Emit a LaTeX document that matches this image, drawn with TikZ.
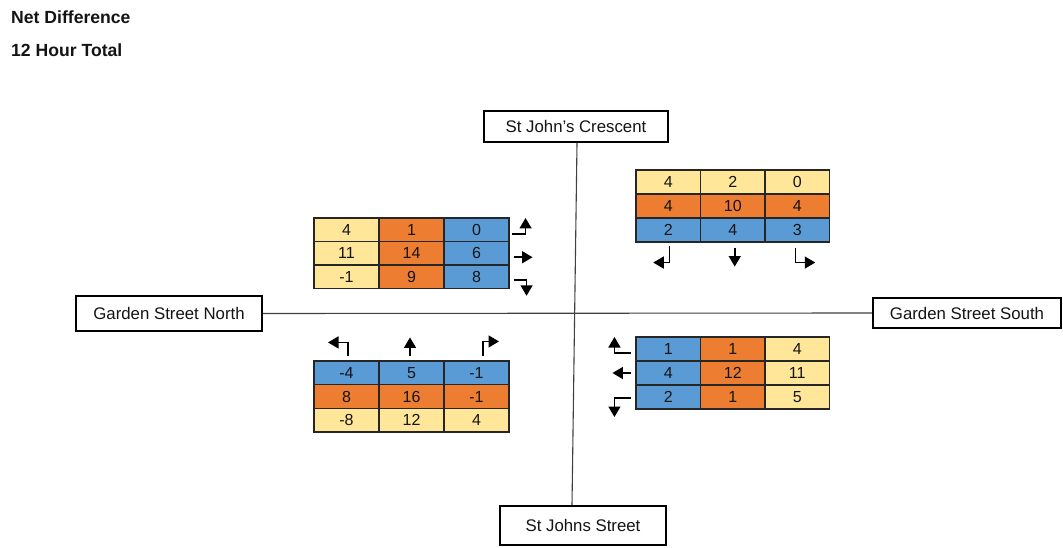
\documentclass[tikz,border=0pt]{standalone}
\usepackage{fontspec}
\setmainfont{Liberation Sans}
\usetikzlibrary{arrows.meta,calc}
\definecolor{yel}{HTML}{FFE699}
\definecolor{org}{HTML}{ED7D31}
\definecolor{blu}{HTML}{5B9BD5}
\definecolor{txt}{HTML}{141414}
\definecolor{road}{HTML}{404040}
\newcommand\mktable[6]{%
  \foreach \r/\c/\v/\f in {#6}{%
    \node[cell,fill=\f,minimum width=#4pt,minimum height=#5pt] (#1-\r-\c)
      at ({#2+(\c-0.5)*#4},{#3+(\r-0.5)*#5}) {\v};}}
\begin{document}
\begin{tikzpicture}[x=1pt,y=-1pt,
  cell/.style={draw=black!85,line width=1.1pt,inner sep=0pt,text=txt,
    font=\fontsize{16}{18}\selectfont},
  street/.style={draw=black,line width=2.2pt,fill=white,inner sep=0pt,
    text=txt,font=\fontsize{16.8}{19}\selectfont},
  title/.style={font=\fontsize{17.6}{20}\selectfont\bfseries,text=txt,
    inner sep=0pt,anchor=base west},
  turn/.style={line width=1.5pt,-{Triangle[length=10.5pt,width=12pt]}},
  roadline/.style={draw=road,line width=1.1pt}]
\useasboundingbox (0,0) rectangle (1063,548);
\node[title] (t1) at (11,24) {Net Difference};
\node[title] (t2) at (11,57) {12 Hour Total};
% streets
\node[street,minimum width=184pt,minimum height=31pt] (sjc) at (576,126.5) {St John's Crescent};
\node[street,minimum width=166pt,minimum height=39pt] (sjs) at (583,525.5) {St Johns Street};
\node[street,minimum width=186pt,minimum height=35pt] (gsn) at (169,313.5) {Garden Street North};
\node[street,minimum width=188pt,minimum height=30pt] (gss) at (967,313) {Garden Street South};
\coordinate (vt) at (577,143);
\coordinate (vb) at (572,505);
\draw[roadline] (sjc.south -| vt) -- (sjs.north -| vb);
\draw[roadline] (gsn.east) -- (gss.west);
% tables
\mktable{nw}{314}{218}{65}{23.5}{1/1/4/yel,1/2/1/org,1/3/0/blu,2/1/11/yel,2/2/14/org,2/3/6/blu,3/1/-1/yel,3/2/9/org,3/3/8/blu}
\mktable{ne}{636}{170}{64.5}{24}{1/1/4/yel,1/2/2/yel,1/3/0/yel,2/1/4/org,2/2/10/org,2/3/4/org,3/1/2/blu,3/2/4/blu,3/3/3/blu}
\mktable{sw}{314}{361}{65}{23.67}{1/1/-4/blu,1/2/5/blu,1/3/-1/blu,2/1/8/org,2/2/16/org,2/3/-1/org,3/1/-8/yel,3/2/12/yel,3/3/4/yel}
\mktable{se}{636}{337}{64.5}{24}{1/1/1/blu,1/2/1/org,1/3/4/yel,2/1/4/blu,2/2/12/org,2/3/11/yel,3/1/2/blu,3/2/1/org,3/3/5/yel}
% turning arrows
\draw[turn] ($(nw-1-3.east)+(2,4.25)$) -- ++(14,0) -- ++(0,-16);
\draw[turn] ($(nw-2-3.east)+(4,4)$) -- ++(19,0);
\draw[turn] ($(nw-3-3.east)+(4,3)$) -- ++(13,0) -- ++(0,16);
\draw[turn] ($(ne-3-1.south)+(1,3)$) -- ++(0,17) -- ++(-16,0);
\draw[turn] ($(ne-3-2.south)+(2,5)$) -- ++(0,19);
\draw[turn] ($(ne-3-3.south)+(-2,5)$) -- ++(0,15) -- ++(20,0);
\draw[turn] ($(sw-1-1.north)+(1.5,-4)$) -- ++(0,-14) -- ++(-20,0);
\draw[turn] ($(sw-1-2.north)+(-1.5,-4)$) -- ++(0,-19);
\draw[turn] ($(sw-1-3.north)+(6.5,-4)$) -- ++(0,-15) -- ++(16,0);
\draw[turn] ($(se-1-1.west)+(-4,4)$) -- ++(-17,0) -- ++(0,-16);
\draw[turn] ($(se-2-1.west)+(-4,0)$) -- ++(-19,0);
\draw[turn] ($(se-3-1.west)+(-4,1)$) -- ++(-17,0) -- ++(0,19);
\end{tikzpicture}
\end{document}
